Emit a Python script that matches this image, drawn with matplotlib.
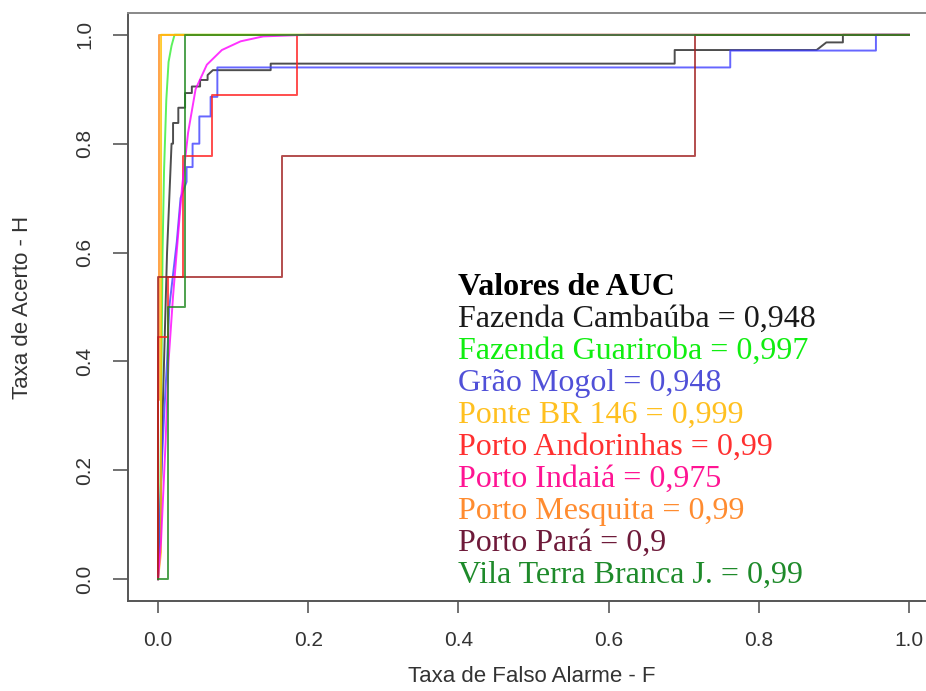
import matplotlib.pyplot as plt

# curvas ROC (taxa de falso alarme F, taxa de acerto H)
nomes = ['Fazenda Cambaúba', 'Fazenda Guariroba', 'Grão Mogol', 'Ponte BR 146',
         'Porto Andorinhas', 'Porto Indaiá', 'Porto Mesquita', 'Porto Pará',
         'Vila Terra Branca J.']
auc = ['0,948', '0,997', '0,948', '0,999', '0,99', '0,975', '0,99', '0,9', '0,99']
cores_linha = ['#222222', '#33ee33', '#4040ff', '#ffc000', '#ff2020',
               '#ff00ff', '#ff8c1a', '#a02020', '#208a20']
cores_texto = ['#1a1a1a', '#10ee10', '#5050d8', '#ffc020', '#ff3030',
               '#ff1493', '#ff8c30', '#6e1a3a', '#1e8a2a']

f_cambauba = [0, 0.003, 0.006, 0.009, 0.012, 0.015, 0.018, 0.020, 0.020, 0.027, 0.027,
              0.036, 0.036, 0.045, 0.045, 0.056, 0.056, 0.066, 0.066, 0.073, 0.15, 0.15,
              0.688, 0.688, 0.877, 0.89, 0.912, 0.912, 1]
h_cambauba = [0, 0.10, 0.30, 0.45, 0.60, 0.70, 0.80, 0.80, 0.838, 0.838, 0.866,
              0.866, 0.893, 0.893, 0.905, 0.905, 0.917, 0.917, 0.926, 0.935, 0.935, 0.947,
              0.947, 0.972, 0.972, 0.986, 0.986, 1, 1]
f_guariroba = [0, 0.003, 0.004, 0.006, 0.008, 0.011, 0.014, 0.018, 0.022, 1]
h_guariroba = [0, 0.15, 0.30, 0.60, 0.75, 0.88, 0.95, 0.98, 1, 1]
f_grao = [0, 0.004, 0.008, 0.012, 0.015, 0.020, 0.025, 0.030, 0.038, 0.038, 0.046, 0.046,
          0.055, 0.055, 0.070, 0.070, 0.079, 0.079, 0.762, 0.762, 0.956, 0.956, 1]
h_grao = [0, 0.18, 0.30, 0.40, 0.50, 0.56, 0.62, 0.70, 0.73, 0.757, 0.757, 0.80,
          0.80, 0.85, 0.85, 0.886, 0.886, 0.94, 0.94, 0.971, 0.971, 1, 1]
f_ponte = [0, 0.004, 0.004, 1]
h_ponte = [0, 0.05, 1, 1]
f_andorinhas = [0, 0, 0.013, 0.013, 0.033, 0.033, 0.072, 0.072, 0.185, 0.185, 1]
h_andorinhas = [0, 0.444, 0.444, 0.556, 0.556, 0.778, 0.778, 0.889, 0.889, 1, 1]
f_indaia = [0, 0.004, 0.010, 0.014, 0.020, 0.026, 0.032, 0.040, 0.050, 0.065, 0.085,
            0.110, 0.140, 0.2, 1]
h_indaia = [0, 0.07, 0.25, 0.40, 0.52, 0.62, 0.72, 0.82, 0.90, 0.945, 0.972,
            0.988, 0.997, 1, 1]
f_mesquita = [0, 0, 0.001, 0.001, 1]
h_mesquita = [0, 0.33, 0.33, 1, 1]
f_para = [0, 0, 0.165, 0.165, 0.715, 0.715, 1]
h_para = [0, 0.556, 0.556, 0.778, 0.778, 1, 1]
f_vila = [0, 0.013, 0.013, 0.036, 0.036, 1]
h_vila = [0, 0, 0.5, 0.5, 1, 1]

curvas = [(f_cambauba, h_cambauba), (f_guariroba, h_guariroba), (f_grao, h_grao),
          (f_mesquita, h_mesquita), (f_ponte, h_ponte), (f_andorinhas, h_andorinhas),
          (f_indaia, h_indaia), (f_para, h_para), (f_vila, h_vila)]
cores_curvas = [cores_linha[0], cores_linha[1], cores_linha[2], cores_linha[6],
                cores_linha[3], cores_linha[4], cores_linha[5], cores_linha[7],
                cores_linha[8]]

fig = plt.figure(figsize=(9.26, 6.91), dpi=100)
ax = fig.add_axes([128 / 926, 90 / 691, 811 / 926, 588 / 691])

for (f, h), cor in zip(curvas, cores_curvas):
    ax.plot(f, h, color=cor, lw=1.4, alpha=0.8)

ax.set_xlim(-0.04, 1.04)
ax.set_ylim(-0.04, 1.04)
ticks = [0, 0.2, 0.4, 0.6, 0.8, 1.0]
ax.set_xticks(ticks)
ax.set_yticks(ticks)
ax.set_xticklabels(['0.0', '0.2', '0.4', '0.6', '0.8', '1.0'])
ax.set_yticklabels(['0.0', '0.2', '0.4', '0.6', '0.8', '1.0'])
ax.tick_params(axis='x', length=8.5, width=1.3, color='#666666', pad=13,
               labelsize=15, labelcolor='#333333')
ax.tick_params(axis='y', length=10.5, width=1.3, color='#666666', pad=14,
               labelsize=15, labelcolor='#333333')
for lbl in ax.get_xticklabels() + ax.get_yticklabels():
    lbl.set_family('Liberation Sans')
for lbl in ax.get_yticklabels():
    lbl.set_rotation(90)
    lbl.set_va('center')
for lado in ['left', 'bottom', 'right']:
    ax.spines[lado].set_color('#555555')
    ax.spines[lado].set_linewidth(1.4)
ax.spines['top'].set_color('#888888')
ax.spines['top'].set_linewidth(1.4)

fig.text(532 / 926, 1 - 677 / 691, 'Taxa de Falso Alarme - F', ha='center', va='center',
         fontsize=16, family='Liberation Sans', color='#333333')
fig.text(23 / 926, 1 - 307 / 691, 'Taxa de Acerto - H', ha='center', va='center',
         rotation=90, fontsize=16, family='Liberation Sans', color='#333333')

# legenda com os valores de AUC
x0 = 0.40
y0 = 0.522
passo = 0.0588
ax.text(x0, y0, 'Valores de AUC', family='Liberation Serif', fontsize=23,
        fontweight='bold', va='baseline', ha='left', color='black')
for i, (nome, valor, cor) in enumerate(zip(nomes, auc, cores_texto)):
    ax.text(x0, y0 - (i + 1) * passo, f'{nome} = {valor}', family='Liberation Serif',
            fontsize=23, va='baseline', ha='left', color=cor)

fig.savefig('out.png', dpi=100)
